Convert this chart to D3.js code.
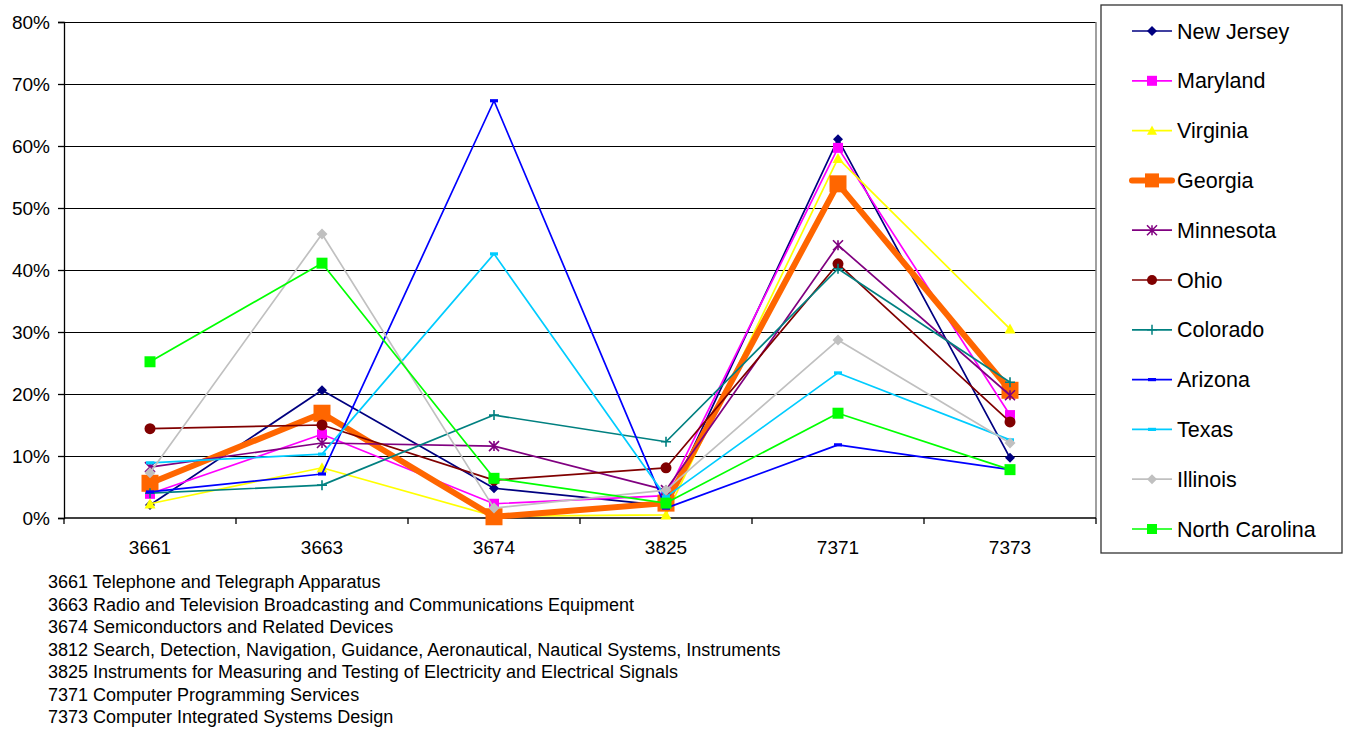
<!DOCTYPE html>
<html>
<head>
<meta charset="utf-8">
<script src="https://cdn.jsdelivr.net/npm/d3@7"></script>
<style>
  html, body { margin: 0; padding: 0; background: #fff; }
  svg { display: block; font-family: "Liberation Sans", Arial, sans-serif; }
</style>
</head>
<body>
<svg id="chart" width="1348" height="730"></svg>
<script>
// SIC industry codes along the x axis
const categories = ["3661", "3663", "3674", "3825", "7371", "7373"];

// Share of employment (%) by state for each SIC code
const newJersey     = [2.1, 20.6, 4.8, 2.0, 61.1, 9.7];
const maryland      = [3.9, 13.5, 2.3, 3.6, 59.7, 16.6];
const virginia      = [2.3, 8.1, 0.3, 0.5, 58.0, 30.5];
const georgia       = [5.6, 16.9, 0.2, 2.4, 53.9, 20.6];
const minnesota     = [8.2, 12.1, 11.6, 4.5, 44.0, 19.8];
const ohio          = [14.4, 15.0, 6.1, 8.1, 41.0, 15.5];
const colorado      = [4.0, 5.3, 16.6, 12.3, 40.2, 21.9];
const arizona       = [4.2, 7.1, 67.3, 1.6, 11.8, 7.8];
const texas         = [8.9, 10.3, 42.6, 3.4, 23.4, 12.6];
const illinois      = [7.3, 45.8, 1.6, 4.5, 28.7, 12.1];
const northCarolina = [25.2, 41.1, 6.4, 2.4, 16.9, 7.8];

const seriesNames = ["New Jersey", "Maryland", "Virginia", "Georgia", "Minnesota", "Ohio",
                     "Colorado", "Arizona", "Texas", "Illinois", "North Carolina"];

const yTicks = [0, 10, 20, 30, 40, 50, 60, 70, 80];

const footnotes = [
  "3661 Telephone and Telegraph Apparatus",
  "3663 Radio and Television Broadcasting and Communications Equipment",
  "3674 Semiconductors and Related Devices",
  "3812 Search, Detection, Navigation, Guidance, Aeronautical, Nautical Systems, Instruments",
  "3825 Instruments for Measuring and Testing of Electricity and Electrical Signals",
  "7371 Computer Programming Services",
  "7373 Computer Integrated Systems Design"
];

// Per-series styling
const styles = [
  { color: "#000080", marker: "diamond",  size: 10, width: 1.7 },
  { color: "#FF00FF", marker: "square",   size: 10, width: 1.7 },
  { color: "#FFFF00", marker: "triangle", size: 11, width: 1.7 },
  { color: "#FF6600", marker: "square",   size: 17, width: 6   },
  { color: "#800080", marker: "asterisk", size: 10, width: 1.7 },
  { color: "#800000", marker: "circle",   size: 11, width: 1.7 },
  { color: "#008080", marker: "plus",     size: 10, width: 1.7 },
  { color: "#0000FF", marker: "dash",     size: 8,  width: 1.7 },
  { color: "#00CCFF", marker: "dash",     size: 8,  width: 1.7 },
  { color: "#C0C0C0", marker: "diamond",  size: 11, width: 1.7 },
  { color: "#00FF00", marker: "square",   size: 11, width: 1.7 }
];

const seriesValues = [newJersey, maryland, virginia, georgia, minnesota, ohio,
                      colorado, arizona, texas, illinois, northCarolina];

const series = seriesNames.map((name, i) => ({ name, values: seriesValues[i], ...styles[i] }));

const svg = d3.select("#chart");
const plot = { left: 64, right: 1096, top: 22, bottom: 518 };

const x = d3.scaleBand().domain(categories).range([plot.left, plot.right]).padding(0);
const y = d3.scaleLinear().domain([0, 80]).range([plot.bottom, plot.top]);
const cx = c => x(c) + x.bandwidth() / 2;

// Gridlines
svg.append("g")
  .selectAll("line")
  .data(yTicks.filter(t => t > 0))
  .join("line")
  .attr("x1", plot.left).attr("x2", plot.right)
  .attr("y1", d => y(d)).attr("y2", d => y(d))
  .attr("stroke", "#000").attr("stroke-width", 1)
  .attr("shape-rendering", "crispEdges");

// Plot area border (right side)
svg.append("line")
  .attr("x1", plot.right).attr("x2", plot.right)
  .attr("y1", plot.top).attr("y2", plot.bottom)
  .attr("stroke", "#808080").attr("stroke-width", 1.5);

// Y axis
const yAxis = d3.axisLeft(y).tickValues(yTicks).tickFormat(d => d + "%").tickSize(6).tickPadding(8);
const gy = svg.append("g").attr("transform", `translate(${plot.left},0)`).call(yAxis);
gy.select(".domain").attr("stroke", "#000").attr("stroke-width", 1.3);
gy.selectAll(".tick line").attr("stroke", "#000").attr("stroke-width", 1.3);
gy.selectAll("text").attr("font-size", 19).attr("fill", "#000")
  .attr("font-family", "Liberation Sans, Arial, sans-serif");

// X axis with ticks at category boundaries
const gx = svg.append("g").attr("transform", `translate(0,${plot.bottom})`);
gx.append("line").attr("x1", plot.left).attr("x2", plot.right)
  .attr("y1", 0).attr("y2", 0).attr("stroke", "#000").attr("stroke-width", 1.3);
const boundaries = categories.map(c => x(c)).concat([plot.right]);
gx.selectAll("line.tk").data(boundaries).join("line").attr("class", "tk")
  .attr("x1", d => d).attr("x2", d => d).attr("y1", 0).attr("y2", 6)
  .attr("stroke", "#000").attr("stroke-width", 1.3);
gx.selectAll("text").data(categories).join("text")
  .attr("x", d => cx(d)).attr("y", 36)
  .attr("text-anchor", "middle").attr("font-size", 19).attr("fill", "#000")
  .text(d => d);

// Marker path generator
function markerPath(type, s) {
  const h = s / 2;
  switch (type) {
    case "diamond":  return `M0,${-h}L${h},0L0,${h}L${-h},0Z`;
    case "square":   return `M${-h},${-h}H${h}V${h}H${-h}Z`;
    case "triangle": return `M0,${-h}L${h},${h * 0.85}L${-h},${h * 0.85}Z`;
    case "dash":     return `M${-h},-1.6H${h}V1.6H${-h}Z`;
    case "circle":   return d3.symbol(d3.symbolCircle, Math.PI * h * h)();
    case "plus":     return `M${-h},0H${h}M0,${-h}V${h}`;
    case "asterisk": return `M${-h},${-h}L${h},${h}M${-h},${h}L${h},${-h}M0,${-h}V${h}`;
  }
}
const strokeMarker = t => t === "plus" || t === "asterisk";

const line = d3.line().x((d, i) => cx(categories[i])).y(d => y(d));

// Series lines and markers, drawn in series order
series.forEach(s => {
  const g = svg.append("g");
  g.append("path")
    .attr("d", line(s.values))
    .attr("fill", "none")
    .attr("stroke", s.color)
    .attr("stroke-width", s.width)
    .attr("stroke-linejoin", "round");
  g.selectAll("path.m").data(s.values).join("path").attr("class", "m")
    .attr("transform", (d, i) => `translate(${cx(categories[i])},${y(d)})`)
    .attr("d", markerPath(s.marker, s.size))
    .attr("fill", strokeMarker(s.marker) ? "none" : s.color)
    .attr("stroke", strokeMarker(s.marker) ? s.color : "none")
    .attr("stroke-width", 1.6);
});

// Legend
const legend = svg.append("g");
legend.append("rect")
  .attr("x", 1101).attr("y", 5).attr("width", 241).attr("height", 548)
  .attr("fill", "#fff").attr("stroke", "#333").attr("stroke-width", 1.3);
series.forEach((s, i) => {
  const ly = 31 + i * 49.8;
  const g = legend.append("g");
  g.append("line").attr("x1", 1132).attr("x2", 1172).attr("y1", ly).attr("y2", ly)
    .attr("stroke", s.color).attr("stroke-width", s.width)
    .attr("stroke-linecap", s.width > 2 ? "round" : "butt");
  const ms = s.name === "Georgia" ? 14 : Math.min(s.size, 10);
  g.append("path")
    .attr("transform", `translate(1152,${ly})`)
    .attr("d", markerPath(s.marker, ms))
    .attr("fill", strokeMarker(s.marker) ? "none" : s.color)
    .attr("stroke", strokeMarker(s.marker) ? s.color : "none")
    .attr("stroke-width", 1.5);
  g.append("text").attr("x", 1177).attr("y", ly + 7.5)
    .attr("font-size", 21.5).attr("fill", "#000").text(s.name);
});

// Code descriptions below the chart
svg.append("g").selectAll("text").data(footnotes).join("text")
  .attr("x", 48).attr("y", (d, i) => 588 + i * 22.5)
  .attr("font-size", 18).attr("fill", "#000")
  .text(d => d);
</script>
</body>
</html>
